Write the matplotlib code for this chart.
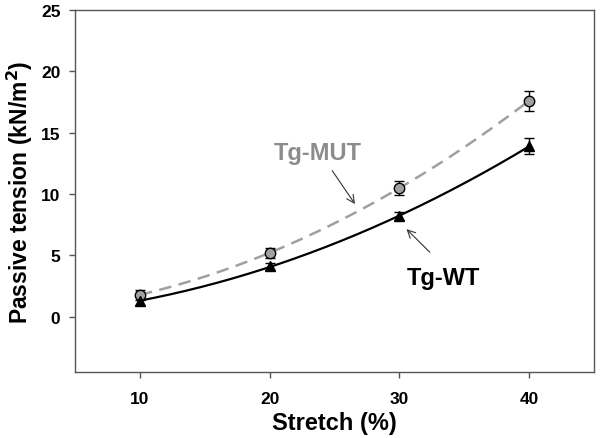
import numpy as np
import matplotlib
matplotlib.use("Agg")
import matplotlib.pyplot as plt

plt.rcParams['font.family'] = ['Liberation Sans', 'DejaVu Sans']
plt.rcParams['font.weight'] = 'bold'

stretch = [10, 20, 30, 40]
mut = [1.8, 5.2, 10.5, 17.6]
mut_err = [0.4, 0.4, 0.55, 0.8]
wt = [1.3, 4.1, 8.2, 13.9]
wt_err = [0.3, 0.25, 0.35, 0.65]

fig = plt.figure(figsize=(6.0, 4.39), dpi=100)
ax = fig.add_axes([75/600, 1-373/439, (594-75)/600, (373-11)/439])

xs = np.linspace(10, 40, 200)
cm = np.polyfit(stretch, mut, 2)
cw = np.polyfit(stretch, wt, 2)
ax.plot(xs, np.polyval(cm, xs), color='#a0a0a0', lw=1.8, ls=(0, (5, 3)), zorder=2)
ax.plot(xs, np.polyval(cw, xs), color='black', lw=1.6, zorder=2)

ax.errorbar(stretch, mut, yerr=mut_err, fmt='o', color='black', mfc='#a0a0a0',
            mec='black', ms=7.5, mew=1.0, capsize=3.8, elinewidth=1, capthick=1, zorder=3)
ax.errorbar(stretch, wt, yerr=wt_err, fmt='^', color='black', mfc='black',
            mec='black', ms=7, capsize=3.8, elinewidth=1, capthick=1, zorder=3)

ax.set_xlim(5, 45)
ax.set_ylim(-4.5, 25)
ax.set_xticks([10, 20, 30, 40])
ax.set_yticks([0, 5, 10, 15, 20, 25])
ax.tick_params(direction='out', length=4.5, width=1, labelsize=12.5, colors='black')
ax.tick_params(axis='x', pad=9, color='#555555')
ax.tick_params(axis='y', pad=6, color='#555555')
ax.tick_params(top=False, right=False)
for lab in ax.get_xticklabels() + ax.get_yticklabels():
    lab.set_fontweight('bold')
for s in ax.spines.values():
    s.set_color('#555555')
    s.set_linewidth(1.0)

ax.set_xlabel('Stretch (%)', fontsize=17, fontweight='bold', labelpad=4)
ax.set_ylabel('Passive tension (kN/m$^\\mathbf{2}$)', fontsize=16.5, fontweight='bold', labelpad=4)

ax.text(23.7, 13.35, 'Tg-MUT', color='#8c8c8c', fontsize=17, fontweight='bold',
        ha='center', va='center')
ax.annotate('', xy=(26.7, 9.0), xytext=(24.7, 12.1),
            arrowprops=dict(arrowstyle='->', color='#333333', lw=0.8, mutation_scale=14))
ax.text(33.4, 3.2, 'Tg-WT', color='black', fontsize=17, fontweight='bold',
        ha='center', va='center')
ax.annotate('', xy=(30.4, 7.3), xytext=(32.5, 5.1),
            arrowprops=dict(arrowstyle='->', color='#333333', lw=0.8, mutation_scale=14))

fig.savefig('out.png', dpi=100)
